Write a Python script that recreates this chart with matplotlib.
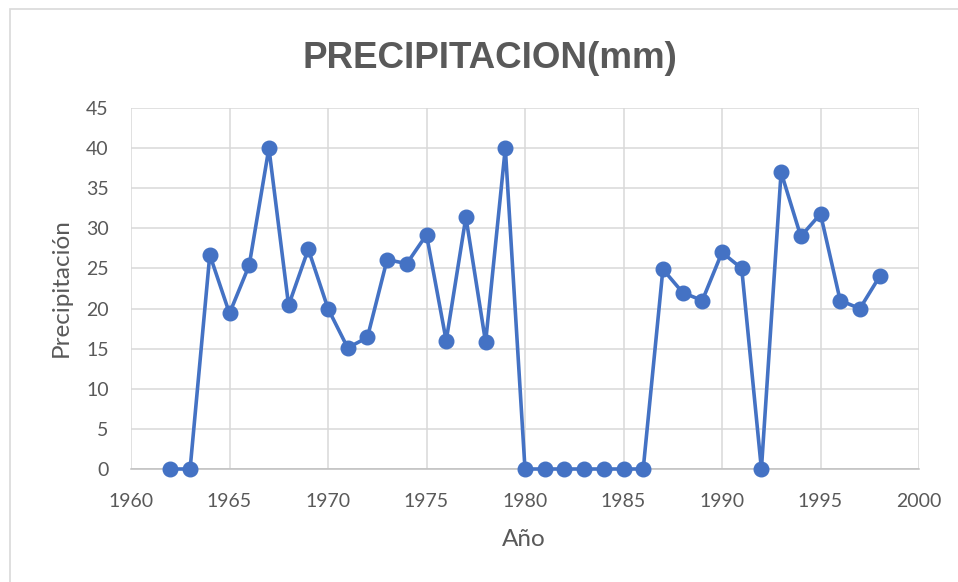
import matplotlib
matplotlib.use("Agg")
import matplotlib.pyplot as plt
from matplotlib.patches import Rectangle

years = list(range(1962, 1999))
precip = [0, 0, 26.7, 19.4, 25.4, 40.0, 20.4, 27.4, 20.0, 15.1, 16.4, 26.1, 25.6, 29.2,
          16.0, 31.4, 15.8, 40.0, 0, 0, 0, 0, 0, 0, 0, 24.9, 22.0, 21.0, 27.0, 25.0,
          0, 37.0, 29.0, 31.8, 21.0, 20.0, 24.0]
xticks = [1960, 1965, 1970, 1975, 1980, 1985, 1990, 1995, 2000]
yticks = [0, 5, 10, 15, 20, 25, 30, 35, 40, 45]

plt.rcParams['font.family'] = ['Lato', 'DejaVu Sans']
txt = '#595959'

fig = plt.figure(figsize=(9.58, 5.82), dpi=100)
fig.patches.append(Rectangle((10/958, -0.05), 1.1, 1 - 9/582 + 0.05, transform=fig.transFigure,
                             fill=False, edgecolor='#D9D9D9', linewidth=1.2))
ax = fig.add_axes([131/958, 1 - 469/582, (919-131)/958, (469-108)/582])
ax.plot(years, precip, color='#4472C4', linewidth=2.6, marker='o', markersize=10.5,
        markerfacecolor='#4472C4', markeredgecolor='#4472C4', zorder=3, clip_on=False)
ax.set_xlim(1960, 2000)
ax.set_ylim(0, 45)
ax.set_xticks(xticks)
ax.set_yticks(yticks)
ax.grid(True, color='#D9D9D9', linewidth=1.1)
ax.set_axisbelow(True)
for s in ['top', 'right', 'left']:
    ax.spines[s].set_visible(False)
ax.spines['bottom'].set_color('#BFBFBF')
ax.spines['bottom'].set_linewidth(1.1)
ax.tick_params(length=0, labelsize=14, labelcolor=txt)
ax.tick_params(axis='x', pad=17)
ax.tick_params(axis='y', pad=16)
fig.text(524/958, 1 - 540/582, 'Año', ha='center', va='center', fontsize=17.5, color=txt)
fig.text(61/958, 1 - 288/582, 'Precipitación', ha='center', va='center', rotation=90,
         fontsize=17.5, color=txt)
fig.text(490/958, 1 - 68/582, 'PRECIPITACION(mm)', ha='center', va='baseline',
         fontsize=26.5, fontweight='bold', color=txt, family=['Liberation Sans', 'DejaVu Sans'])
fig.savefig('out.png', dpi=100)
